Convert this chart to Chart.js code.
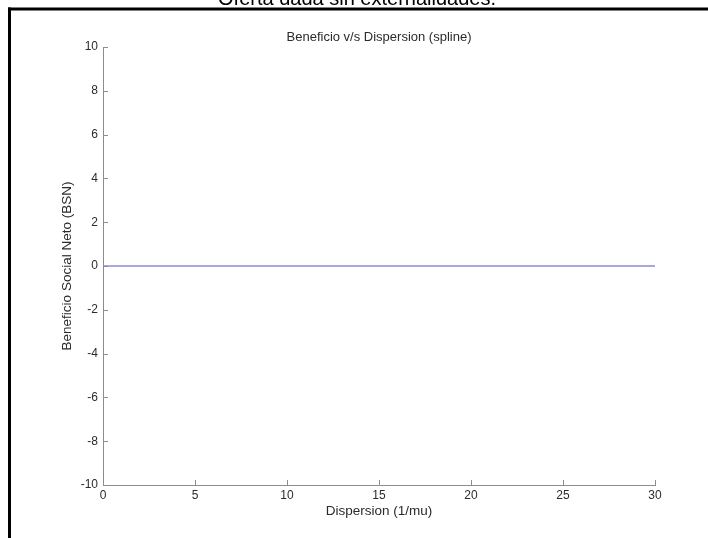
<!DOCTYPE html>
<html>
<head>
<meta charset="utf-8">
<script src="https://cdn.jsdelivr.net/npm/chart.js@4/dist/chart.umd.min.js"></script>
<style>
  html, body { margin: 0; padding: 0; background: #fff; }
  canvas { display: block; }
</style>
</head>
<body>
<canvas id="c" width="708" height="538"></canvas>
<script>
// ---- data ----
const dispersion = [0, 5, 10, 15, 20, 25, 30];        // x (1/mu)
const beneficio  = [0, 0, 0, 0, 0, 0, 0];             // BSN
const xTicks = [0, 5, 10, 15, 20, 25, 30];
const yTicks = [-10, -8, -6, -4, -2, 0, 2, 4, 6, 8, 10];
const chartTitle = 'Beneficio v/s Dispersion (spline)';
const xTitle = 'Dispersion (1/mu)';
const yTitle = 'Beneficio Social Neto (BSN)';
const pageHeading = 'Oferta dada sin externalidades.';

const FONT = 'Arial, "Liberation Sans", Helvetica, sans-serif';
const AXIS = '#8c8c8c';
const TEXT = '#2b2b2b';

const points = dispersion.map((x, i) => ({ x: x, y: beneficio[i] }));

const framePlugin = {
  id: 'frame',
  beforeDraw(chart) {
    const ctx = chart.ctx;
    ctx.save();
    ctx.fillStyle = '#ffffff';
    ctx.fillRect(0, 0, chart.width, chart.height);
    // cropped heading above the frame
    ctx.fillStyle = '#000000';
    ctx.font = '20px ' + FONT;
    ctx.textAlign = 'center';
    ctx.textBaseline = 'alphabetic';
    ctx.fillText(pageHeading, 357, 5);
    // thick frame lines (top and left)
    ctx.fillRect(8, 7.5, chart.width - 8, 3);
    ctx.fillRect(8, 7.5, 3, chart.height - 7.5);
    ctx.restore();
  },
  afterDraw(chart) {
    // inward tick marks, MATLAB style
    const ctx = chart.ctx;
    const xs = chart.scales.x, ys = chart.scales.y;
    const area = chart.chartArea;
    ctx.save();
    ctx.strokeStyle = AXIS;
    ctx.lineWidth = 1;
    ctx.beginPath();
    xs.ticks.forEach(t => {
      const px = Math.round(xs.getPixelForValue(t.value)) + 0.5;
      ctx.moveTo(px, area.bottom);
      ctx.lineTo(px, area.bottom - 5);
    });
    ys.ticks.forEach(t => {
      const py = Math.round(ys.getPixelForValue(t.value)) + 0.5;
      ctx.moveTo(area.left, py);
      ctx.lineTo(area.left + 5, py);
    });
    ctx.stroke();
    ctx.restore();
  }
};

new Chart(document.getElementById('c'), {
  type: 'line',
  data: {
    datasets: [{
      data: points,
      borderColor: '#8a8ad8',
      borderWidth: 1.5,
      pointRadius: 0,
      fill: false,
      tension: 0
    }]
  },
  options: {
    responsive: false,
    animation: false,
    devicePixelRatio: 1,
    layout: { padding: { top: 0, right: 53, bottom: 0, left: 0 } },
    plugins: {
      legend: { display: false },
      tooltip: { enabled: false },
      title: {
        display: true,
        fullSize: false,
        text: chartTitle,
        color: TEXT,
        font: { family: FONT, size: 13, weight: 'normal', lineHeight: 1.2 },
        padding: { top: 29.7, bottom: 1.7 }
      }
    },
    scales: {
      x: {
        type: 'linear',
        min: 0, max: 30,
        afterBuildTicks(scale) { scale.ticks = xTicks.map(v => ({ value: v })); },
        afterFit(scale) { scale.height = 53; },
        grid: { display: true, drawOnChartArea: false, drawTicks: false },
        border: { display: true, color: AXIS, width: 1 },
        ticks: { color: TEXT, padding: 3, font: { family: FONT, size: 12 }, maxRotation: 0, autoSkip: false },
        title: {
          display: true, text: xTitle, color: TEXT,
          font: { family: FONT, size: 13.5, lineHeight: 1.2 },
          padding: { top: 0, bottom: 18.9 }
        }
      },
      y: {
        type: 'linear',
        min: -10, max: 10,
        afterBuildTicks(scale) { scale.ticks = yTicks.map(v => ({ value: v })); },
        afterFit(scale) { scale.width = 103; },
        grid: { display: true, drawOnChartArea: false, drawTicks: false },
        border: { display: true, color: AXIS, width: 1 },
        ticks: { color: TEXT, padding: 5, font: { family: FONT, size: 12 }, autoSkip: false },
        title: {
          display: true, text: yTitle, color: TEXT,
          font: { family: FONT, size: 13.5, lineHeight: 1.2 },
          padding: { top: 58.9, bottom: 0 }
        }
      }
    }
  },
  plugins: [framePlugin]
});
</script>
</body>
</html>
